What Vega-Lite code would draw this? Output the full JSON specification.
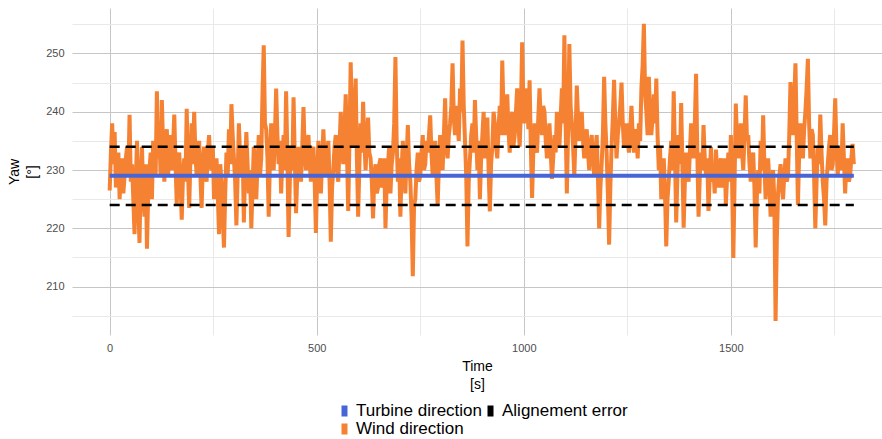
{
  "$schema": "https://vega.github.io/schema/vega-lite/v6.json",
  "width": 810,
  "height": 327,
  "autosize": {"type": "none"},
  "padding": {"left": 72, "top": 8, "right": 0, "bottom": 104},
  "background": "white",
  "config": {"font": "Liberation Sans", "view": {"stroke": null}},
  "datasets": {
    "wind": [
      {"t":0,"v":226.5},{"t":3,"v":233},{"t":6,"v":238},{"t":9,"v":231},{"t":12,"v":236.5},{"t":15,"v":227},{"t":18,"v":229},{"t":21,"v":233},{"t":24,"v":225},{"t":27,"v":230},{"t":30,"v":232},{"t":33,"v":226},{"t":36,"v":229},{"t":39,"v":232},{"t":42,"v":234},{"t":45,"v":229},{"t":48,"v":239.5},{"t":51,"v":228},{"t":54,"v":231},{"t":57,"v":225},
      {"t":60,"v":219},{"t":63,"v":228},{"t":66,"v":235},{"t":69,"v":224},{"t":72,"v":217.5},{"t":75,"v":229},{"t":78,"v":234},{"t":81,"v":226},{"t":84,"v":222},{"t":87,"v":231},{"t":90,"v":216.5},{"t":93,"v":226},{"t":96,"v":230},{"t":99,"v":233},{"t":102,"v":225},{"t":105,"v":235},{"t":108,"v":232},{"t":111,"v":229},{"t":114,"v":243.5},{"t":117,"v":232},
      {"t":120,"v":236},{"t":123,"v":229},{"t":126,"v":242},{"t":129,"v":234},{"t":132,"v":228},{"t":135,"v":234},{"t":138,"v":237},{"t":141,"v":229},{"t":144,"v":233},{"t":147,"v":236},{"t":150,"v":230},{"t":153,"v":234},{"t":156,"v":239.5},{"t":159,"v":231},{"t":162,"v":224},{"t":165,"v":232},{"t":168,"v":233},{"t":171,"v":228},{"t":174,"v":221.5},{"t":177,"v":229},
      {"t":180,"v":232},{"t":183,"v":228},{"t":186,"v":240.5},{"t":189,"v":230},{"t":192,"v":223.5},{"t":195,"v":232},{"t":198,"v":238},{"t":201,"v":231},{"t":204,"v":240},{"t":207,"v":233},{"t":210,"v":229},{"t":213,"v":233},{"t":216,"v":235},{"t":219,"v":229},{"t":222,"v":223.5},{"t":225,"v":231},{"t":228,"v":234},{"t":231,"v":230},{"t":234,"v":228},{"t":237,"v":233},
      {"t":240,"v":236},{"t":243,"v":231},{"t":246,"v":230},{"t":249,"v":234},{"t":252,"v":225},{"t":255,"v":230},{"t":258,"v":232},{"t":261,"v":226},{"t":264,"v":219},{"t":267,"v":231},{"t":270,"v":228},{"t":273,"v":222},{"t":276,"v":216.7},{"t":279,"v":226},{"t":282,"v":233},{"t":285,"v":229},{"t":288,"v":237},{"t":291,"v":231},{"t":294,"v":241.3},{"t":297,"v":236},
      {"t":300,"v":232},{"t":303,"v":228},{"t":306,"v":220.5},{"t":309,"v":229},{"t":312,"v":238},{"t":315,"v":232},{"t":318,"v":229},{"t":321,"v":234},{"t":324,"v":221},{"t":327,"v":230},{"t":330,"v":236.5},{"t":333,"v":231},{"t":336,"v":226},{"t":339,"v":230},{"t":342,"v":220},{"t":345,"v":227},{"t":348,"v":234},{"t":351,"v":230},{"t":354,"v":225},{"t":357,"v":231},
      {"t":360,"v":236},{"t":363,"v":229},{"t":366,"v":232},{"t":369,"v":243},{"t":372,"v":251.4},{"t":375,"v":238},{"t":378,"v":237},{"t":381,"v":232},{"t":384,"v":222},{"t":387,"v":232},{"t":390,"v":238},{"t":393,"v":233},{"t":396,"v":230},{"t":399,"v":236},{"t":402,"v":244},{"t":405,"v":236},{"t":408,"v":231},{"t":411,"v":235},{"t":414,"v":226},{"t":417,"v":232},
      {"t":420,"v":236},{"t":423,"v":230},{"t":426,"v":243.5},{"t":429,"v":233},{"t":432,"v":218.5},{"t":435,"v":228},{"t":438,"v":234},{"t":441,"v":230},{"t":444,"v":242.5},{"t":447,"v":232},{"t":450,"v":222.6},{"t":453,"v":229},{"t":456,"v":234},{"t":459,"v":231},{"t":462,"v":228},{"t":465,"v":234},{"t":468,"v":240.8},{"t":471,"v":233},{"t":474,"v":230},{"t":477,"v":234},
      {"t":480,"v":236},{"t":483,"v":231},{"t":486,"v":228},{"t":489,"v":233},{"t":492,"v":234},{"t":495,"v":228},{"t":498,"v":219.2},{"t":501,"v":229},{"t":504,"v":235},{"t":507,"v":231},{"t":510,"v":226},{"t":513,"v":232},{"t":516,"v":237},{"t":519,"v":232},{"t":522,"v":229},{"t":525,"v":233},{"t":528,"v":235},{"t":531,"v":228},{"t":534,"v":217.7},{"t":537,"v":227},
      {"t":540,"v":230},{"t":543,"v":234},{"t":546,"v":236},{"t":549,"v":230},{"t":552,"v":228},{"t":555,"v":234},{"t":558,"v":240},{"t":561,"v":234},{"t":564,"v":231},{"t":567,"v":237},{"t":570,"v":243},{"t":573,"v":233},{"t":576,"v":223},{"t":579,"v":235},{"t":582,"v":248.5},{"t":585,"v":238},{"t":588,"v":234},{"t":591,"v":240},{"t":594,"v":245.7},{"t":597,"v":232},
      {"t":600,"v":222},{"t":603,"v":231},{"t":606,"v":238},{"t":609,"v":233},{"t":612,"v":241.7},{"t":615,"v":235},{"t":618,"v":230},{"t":621,"v":235},{"t":624,"v":239},{"t":627,"v":233},{"t":630,"v":232},{"t":633,"v":228},{"t":636,"v":221.7},{"t":639,"v":229},{"t":642,"v":231},{"t":645,"v":226},{"t":648,"v":227},{"t":651,"v":231},{"t":654,"v":232},{"t":657,"v":227},
      {"t":660,"v":228},{"t":663,"v":232},{"t":666,"v":220},{"t":669,"v":228},{"t":672,"v":231},{"t":675,"v":234},{"t":678,"v":226},{"t":681,"v":231},{"t":684,"v":233},{"t":687,"v":238},{"t":690,"v":249.4},{"t":693,"v":235},{"t":696,"v":228},{"t":699,"v":232},{"t":702,"v":222},{"t":705,"v":230},{"t":708,"v":235},{"t":711,"v":229},{"t":714,"v":226},{"t":717,"v":232},
      {"t":720,"v":237.7},{"t":723,"v":231},{"t":726,"v":228},{"t":729,"v":222},{"t":732,"v":211.8},{"t":735,"v":224},{"t":738,"v":225},{"t":741,"v":230},{"t":744,"v":233},{"t":747,"v":228},{"t":750,"v":229},{"t":753,"v":233},{"t":756,"v":236},{"t":759,"v":230},{"t":762,"v":231},{"t":765,"v":235},{"t":768,"v":233},{"t":771,"v":236},{"t":774,"v":239.4},{"t":777,"v":233},
      {"t":780,"v":229},{"t":783,"v":233},{"t":786,"v":235},{"t":789,"v":229},{"t":792,"v":224},{"t":795,"v":231},{"t":798,"v":236},{"t":801,"v":232},{"t":804,"v":230},{"t":807,"v":236},{"t":810,"v":242.3},{"t":813,"v":234},{"t":816,"v":232},{"t":819,"v":236},{"t":822,"v":238},{"t":825,"v":241},{"t":828,"v":248.3},{"t":831,"v":239},{"t":834,"v":236},{"t":837,"v":241},
      {"t":840,"v":238},{"t":843,"v":235},{"t":846,"v":244},{"t":849,"v":240},{"t":852,"v":252.2},{"t":855,"v":241},{"t":858,"v":235},{"t":861,"v":229},{"t":864,"v":216.9},{"t":867,"v":228},{"t":870,"v":232},{"t":873,"v":236},{"t":876,"v":238},{"t":879,"v":233},{"t":882,"v":242},{"t":885,"v":236},{"t":888,"v":230},{"t":891,"v":235},{"t":894,"v":225},{"t":897,"v":232},
      {"t":900,"v":236},{"t":903,"v":240},{"t":906,"v":232},{"t":909,"v":236},{"t":912,"v":239},{"t":915,"v":230},{"t":918,"v":222.9},{"t":921,"v":231},{"t":924,"v":234},{"t":927,"v":240},{"t":930,"v":238},{"t":933,"v":234},{"t":936,"v":232},{"t":939,"v":237},{"t":942,"v":241},{"t":945,"v":236},{"t":948,"v":248.8},{"t":951,"v":240},{"t":954,"v":236},{"t":957,"v":239},
      {"t":960,"v":243},{"t":963,"v":237},{"t":966,"v":233},{"t":969,"v":238},{"t":972,"v":240},{"t":975,"v":234},{"t":978,"v":236},{"t":981,"v":240},{"t":984,"v":244},{"t":987,"v":238},{"t":990,"v":234},{"t":993,"v":240},{"t":996,"v":251.9},{"t":999,"v":241},{"t":1002,"v":238},{"t":1005,"v":241},{"t":1008,"v":244},{"t":1011,"v":237},{"t":1014,"v":245.4},{"t":1017,"v":234},
      {"t":1020,"v":225.2},{"t":1023,"v":233},{"t":1026,"v":238},{"t":1029,"v":234},{"t":1032,"v":233},{"t":1035,"v":239},{"t":1038,"v":244},{"t":1041,"v":238},{"t":1044,"v":236},{"t":1047,"v":241},{"t":1050,"v":240},{"t":1053,"v":235},{"t":1056,"v":232},{"t":1059,"v":236},{"t":1062,"v":238},{"t":1065,"v":233},{"t":1068,"v":228.5},{"t":1071,"v":232},{"t":1074,"v":236},{"t":1077,"v":233},
      {"t":1080,"v":240},{"t":1083,"v":236},{"t":1086,"v":234},{"t":1089,"v":239},{"t":1092,"v":244},{"t":1095,"v":238},{"t":1098,"v":253.1},{"t":1101,"v":238},{"t":1104,"v":226},{"t":1107,"v":237},{"t":1110,"v":251.6},{"t":1113,"v":241},{"t":1116,"v":238},{"t":1119,"v":234},{"t":1122,"v":229},{"t":1125,"v":236},{"t":1128,"v":244.5},{"t":1131,"v":239},{"t":1134,"v":235},{"t":1137,"v":238},
      {"t":1140,"v":240},{"t":1143,"v":235},{"t":1146,"v":232},{"t":1149,"v":235},{"t":1152,"v":237},{"t":1155,"v":233},{"t":1158,"v":230},{"t":1161,"v":234},{"t":1164,"v":236},{"t":1167,"v":232},{"t":1170,"v":229},{"t":1173,"v":233},{"t":1176,"v":236},{"t":1179,"v":229},{"t":1182,"v":220},{"t":1185,"v":227},{"t":1188,"v":231},{"t":1191,"v":236},{"t":1194,"v":246},{"t":1197,"v":238},
      {"t":1200,"v":233},{"t":1203,"v":226},{"t":1206,"v":217.2},{"t":1209,"v":227},{"t":1212,"v":234},{"t":1215,"v":239},{"t":1218,"v":245.5},{"t":1221,"v":238},{"t":1224,"v":232},{"t":1227,"v":236},{"t":1230,"v":238},{"t":1233,"v":241},{"t":1236,"v":245},{"t":1239,"v":238},{"t":1242,"v":234},{"t":1245,"v":237},{"t":1248,"v":238},{"t":1251,"v":235},{"t":1254,"v":233},{"t":1257,"v":237},
      {"t":1260,"v":241},{"t":1263,"v":236},{"t":1266,"v":233},{"t":1269,"v":237},{"t":1272,"v":236},{"t":1275,"v":232},{"t":1278,"v":238},{"t":1281,"v":235},{"t":1284,"v":244},{"t":1287,"v":248},{"t":1290,"v":255.1},{"t":1293,"v":243},{"t":1296,"v":240},{"t":1299,"v":236},{"t":1302,"v":246},{"t":1305,"v":239},{"t":1308,"v":236},{"t":1311,"v":239},{"t":1314,"v":243},{"t":1317,"v":238},
      {"t":1320,"v":245.7},{"t":1323,"v":236},{"t":1326,"v":230},{"t":1329,"v":234},{"t":1332,"v":225},{"t":1335,"v":231},{"t":1338,"v":232},{"t":1341,"v":226},{"t":1344,"v":216.9},{"t":1347,"v":225},{"t":1350,"v":228},{"t":1353,"v":232},{"t":1356,"v":235},{"t":1359,"v":230},{"t":1362,"v":243.5},{"t":1365,"v":233},{"t":1368,"v":221},{"t":1371,"v":229},{"t":1374,"v":236},{"t":1377,"v":231},
      {"t":1380,"v":241.5},{"t":1383,"v":231},{"t":1386,"v":220.1},{"t":1389,"v":228},{"t":1392,"v":233},{"t":1395,"v":230},{"t":1398,"v":228},{"t":1401,"v":233},{"t":1404,"v":238},{"t":1407,"v":234},{"t":1410,"v":232},{"t":1413,"v":238},{"t":1416,"v":246.5},{"t":1419,"v":233},{"t":1422,"v":222},{"t":1425,"v":229},{"t":1428,"v":233},{"t":1431,"v":230},{"t":1434,"v":237.7},{"t":1437,"v":232},
      {"t":1440,"v":229},{"t":1443,"v":232},{"t":1446,"v":223},{"t":1449,"v":229},{"t":1452,"v":234},{"t":1455,"v":228},{"t":1458,"v":230},{"t":1461,"v":226},{"t":1464,"v":233.5},{"t":1467,"v":230},{"t":1470,"v":227},{"t":1473,"v":231},{"t":1476,"v":232},{"t":1479,"v":227},{"t":1482,"v":229},{"t":1485,"v":232},{"t":1488,"v":224},{"t":1491,"v":229},{"t":1494,"v":233},{"t":1497,"v":228},
      {"t":1500,"v":236},{"t":1503,"v":228},{"t":1506,"v":214.9},{"t":1509,"v":228},{"t":1512,"v":241.4},{"t":1515,"v":235},{"t":1518,"v":232},{"t":1521,"v":236},{"t":1524,"v":238},{"t":1527,"v":233},{"t":1530,"v":230},{"t":1533,"v":236},{"t":1536,"v":242.8},{"t":1539,"v":235},{"t":1542,"v":236},{"t":1545,"v":231},{"t":1548,"v":228},{"t":1551,"v":232},{"t":1554,"v":233},{"t":1557,"v":227},
      {"t":1560,"v":216.7},{"t":1563,"v":226},{"t":1566,"v":230},{"t":1569,"v":226},{"t":1572,"v":235},{"t":1575,"v":230},{"t":1578,"v":239.4},{"t":1581,"v":231},{"t":1584,"v":225},{"t":1587,"v":230},{"t":1590,"v":232},{"t":1593,"v":228},{"t":1596,"v":222},{"t":1599,"v":228},{"t":1602,"v":230},{"t":1605,"v":225},{"t":1608,"v":204.1},{"t":1611,"v":218},{"t":1614,"v":226},{"t":1617,"v":229},
      {"t":1620,"v":231},{"t":1623,"v":227},{"t":1626,"v":225},{"t":1629,"v":229},{"t":1632,"v":232},{"t":1635,"v":228},{"t":1638,"v":229},{"t":1641,"v":236},{"t":1644,"v":245.1},{"t":1647,"v":240},{"t":1650,"v":236},{"t":1653,"v":242},{"t":1656,"v":248.3},{"t":1659,"v":236},{"t":1662,"v":224},{"t":1665,"v":233},{"t":1668,"v":238},{"t":1671,"v":234},{"t":1674,"v":232},{"t":1677,"v":237},
      {"t":1680,"v":240},{"t":1683,"v":244},{"t":1686,"v":249.1},{"t":1689,"v":238},{"t":1692,"v":232},{"t":1695,"v":237},{"t":1698,"v":236},{"t":1701,"v":229},{"t":1704,"v":220},{"t":1707,"v":228},{"t":1710,"v":234},{"t":1713,"v":231},{"t":1716,"v":239.5},{"t":1719,"v":233},{"t":1722,"v":228},{"t":1725,"v":225},{"t":1728,"v":220.5},{"t":1731,"v":228},{"t":1734,"v":231},{"t":1737,"v":234},
      {"t":1740,"v":236},{"t":1743,"v":230},{"t":1746,"v":231},{"t":1749,"v":236},{"t":1752,"v":242.3},{"t":1755,"v":234},{"t":1758,"v":229},{"t":1761,"v":233},{"t":1764,"v":234},{"t":1767,"v":230},{"t":1770,"v":238},{"t":1773,"v":232},{"t":1776,"v":226},{"t":1779,"v":231},{"t":1782,"v":232},{"t":1785,"v":228},{"t":1788,"v":229},{"t":1791,"v":232},{"t":1794,"v":234.5},{"t":1797,"v":231}
    ],
    "turbine": [{"t":0,"v":229},{"t":1797,"v":229}],
    "bounds": [
      {"t":0,"v":234,"g":"upper"},{"t":1797,"v":234,"g":"upper"},
      {"t":0,"v":224,"g":"lower"},{"t":1797,"v":224,"g":"lower"}
    ]
  },
  "encoding": {
    "x": {
      "field": "t", "type": "quantitative",
      "scale": {"domain": [-91, 1865], "nice": false, "zero": false},
      "axis": {
        "title": ["Time", "[s]"],
        "values": [0, 250, 500, 750, 1000, 1250, 1500, 1750],
        "format": "d",
        "labelExpr": "datum.value % 500 === 0 ? datum.label : ''",
        "gridColor": {"condition": {"test": "datum.value % 500 === 0", "value": "#c6c6c6"}, "value": "#e9e9e9"},
        "gridWidth": 1,
        "domain": false, "ticks": false,
        "labelColor": "#4d4d4d", "labelFontSize": 11, "labelPadding": 7,
        "titleFontSize": 14, "titleFontWeight": "normal", "titleColor": "#000000",
        "titleLineHeight": 18, "titlePadding": 6
      }
    },
    "y": {
      "field": "v", "type": "quantitative",
      "scale": {"domain": [201.7, 257.8], "nice": false, "zero": false},
      "axis": {
        "title": ["Yaw", "[°]"],
        "values": [205, 210, 215, 220, 225, 230, 235, 240, 245, 250, 255],
        "labelExpr": "datum.value % 10 === 0 ? datum.label : ''",
        "gridColor": {"condition": {"test": "datum.value % 10 === 0", "value": "#c6c6c6"}, "value": "#e9e9e9"},
        "domain": false, "ticks": false,
        "labelColor": "#4d4d4d", "labelFontSize": 11, "labelPadding": 8,
        "titleFontSize": 14, "titleFontWeight": "normal", "titleColor": "#000000",
        "titleLineHeight": 18, "titlePadding": 6
      }
    }
  },
  "layer": [
    {
      "data": {"name": "wind"},
      "mark": {"type": "line", "strokeWidth": 4, "interpolate": "linear"},
      "encoding": {
        "color": {
          "datum": "Wind direction",
          "scale": {"domain": ["Turbine direction", "Wind direction", "Alignement error"], "range": ["#4865d8", "#f58232", "#000000"]},
          "legend": {
            "orient": "none", "legendX": 264, "legendY": 394, "columns": 2, "title": null,
            "labelFontSize": 17, "labelColor": "#000000", "labelOffset": 3,
            "symbolType": "M0,-1V1", "symbolStrokeWidth": 6, "symbolSize": 121, "symbolDash": [],
            "rowPadding": 0, "columnPadding": -5, "clipHeight": 18
          }
        }
      }
    },
    {
      "data": {"name": "turbine"},
      "mark": {"type": "line", "strokeWidth": 4},
      "encoding": {"color": {"datum": "Turbine direction"}}
    },
    {
      "data": {"name": "bounds"},
      "mark": {"type": "line", "strokeWidth": 2.5, "strokeDash": [10, 6]},
      "encoding": {"color": {"datum": "Alignement error"}, "detail": {"field": "g"}}
    }
  ]
}
